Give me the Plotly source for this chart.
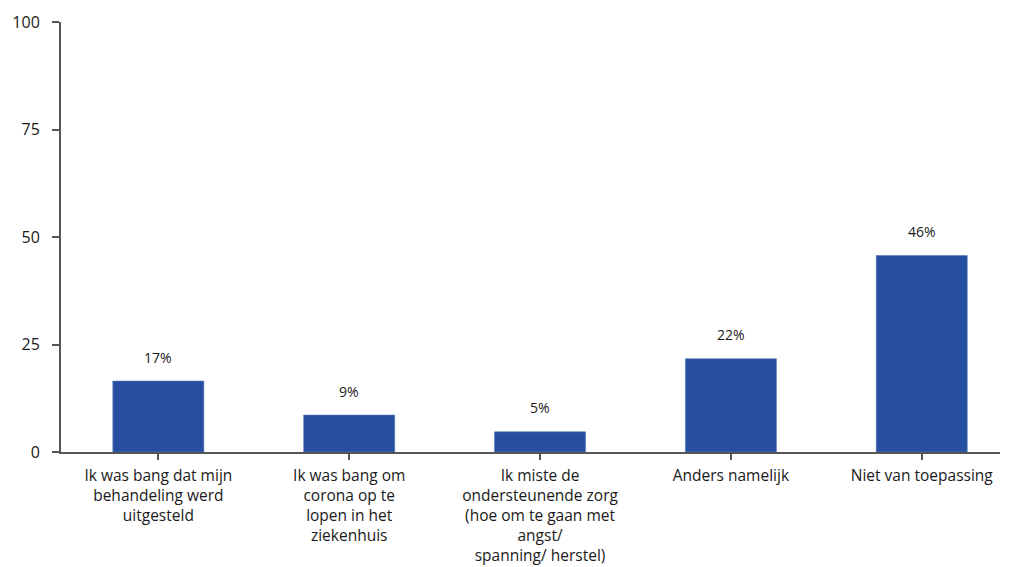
import plotly.graph_objects as go

categories = [
    "Ik was bang dat mijn<br>behandeling werd<br>uitgesteld",
    "Ik was bang om<br>corona op te<br>lopen in het<br>ziekenhuis",
    "Ik miste de<br>ondersteunende zorg<br>(hoe om te gaan met<br>angst/<br>spanning/ herstel)",
    "Anders namelijk",
    "Niet van toepassing",
]
values = [16.5, 8.6, 4.7, 21.7, 45.7]
labels = ["17%", "9%", "5%", "22%", "46%"]
y_ticks = [0, 25, 50, 75, 100]

FONT = "Open Sans"
TXT = "#1a1a1a"
AX = "#555555"

fig = go.Figure()
fig.add_trace(go.Bar(
    x=list(range(len(categories))), y=values,
    marker=dict(color="#264EA1", line=dict(color="#5a78b8", width=0.6)),
    width=0.477, hoverinfo="skip",
))

for i, (v, lab) in enumerate(zip(values, labels)):
    fig.add_annotation(x=i, y=v, text=lab, showarrow=False, yshift=24,
                       font=dict(family=FONT, size=14, color=TXT))

# page has an 8px body margin, so the figure is sized/offset to compensate
fig.update_layout(
    width=1001, height=559,
    margin=dict(l=53, r=9, t=14, b=115),
    plot_bgcolor="white", paper_bgcolor="white",
    showlegend=False,
    font=dict(family=FONT, size=16, color=TXT),
)
fig.update_xaxes(
    range=[-0.51, 4.41], automargin=False,
    tickmode="array", tickvals=list(range(len(categories))), ticktext=categories,
    showline=True, linecolor=AX, linewidth=2,
    ticks="outside", ticklen=6, tickwidth=2, tickcolor=AX,
    showgrid=False, zeroline=False, tickangle=0, ticklabelstandoff=2,
    tickfont=dict(family=FONT, size=15.5, color=TXT),
)
fig.update_yaxes(
    range=[0, 100], tickvals=y_ticks, automargin=False,
    showline=True, linecolor=AX, linewidth=2,
    ticks="outside", ticklen=7, tickwidth=2, tickcolor=AX,
    showgrid=False, zeroline=False, ticklabelstandoff=9,
    tickfont=dict(family=FONT, size=16, color=TXT),
)

fig.write_html("out.html")
